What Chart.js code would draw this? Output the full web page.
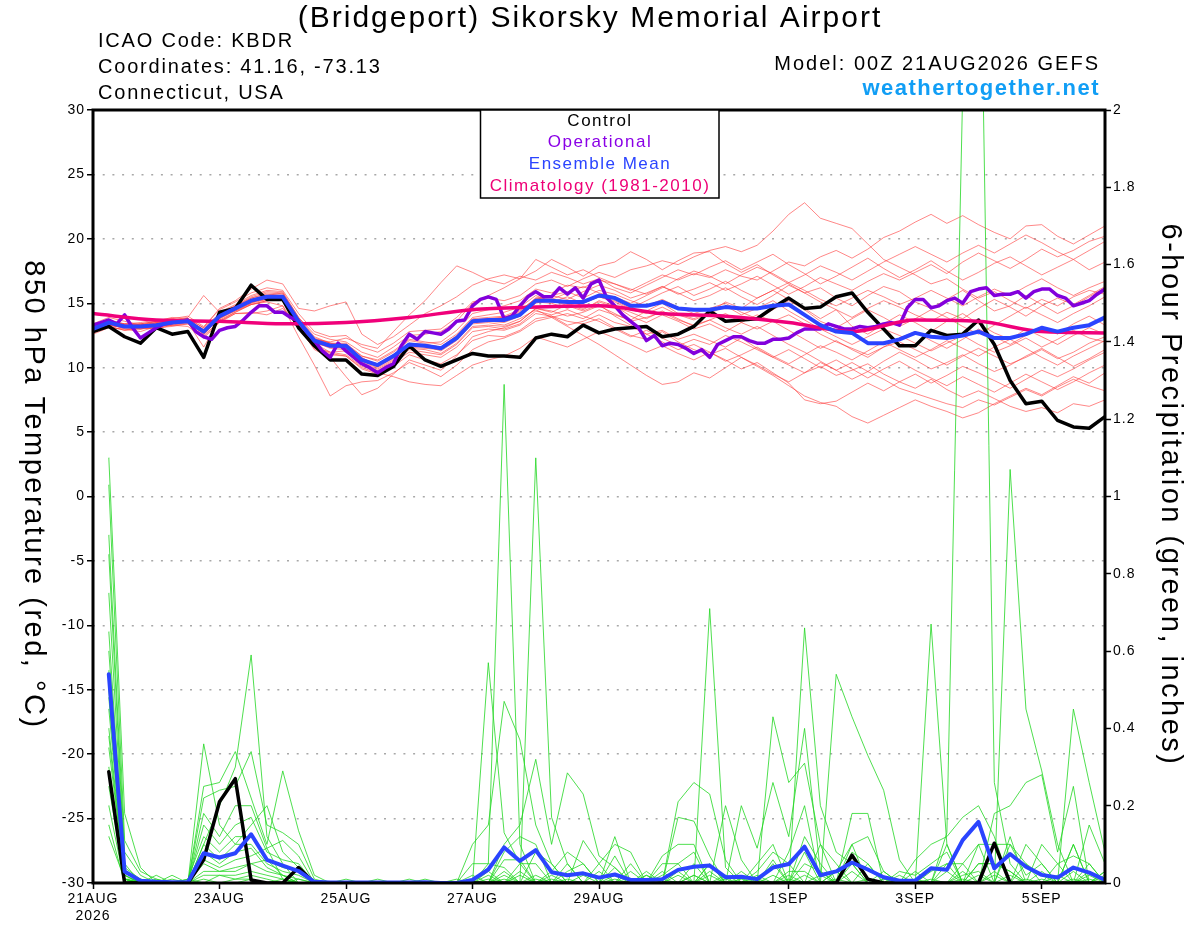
<!DOCTYPE html>
<html>
<head>
<meta charset="utf-8">
<script src="https://cdn.jsdelivr.net/npm/chart.js@4.4.1/dist/chart.umd.min.js"></script>
<style>
html, body { margin: 0; padding: 0; background: #fff; }
#wrap { width: 1200px; height: 927px; position: relative; }
</style>
</head>
<body>
<div id="wrap"><canvas id="chart"></canvas></div>
<script>
var FONT = "'Liberation Sans', Arial, Helvetica, sans-serif";

// x axis: forecast hours from 00Z 21AUG2026
var tickHours = [0, 48, 96, 144, 192, 264, 312, 360];
var tickLabels = [['21AUG', '2026'], '23AUG', '25AUG', '27AUG', '29AUG', '1SEP', '3SEP', '5SEP'];

// 850 hPa temperature, 6-hourly 0..384h
var controlTemp = [
  12.8, 13.2, 12.4, 11.9, 13.1, 12.6, 12.8, 10.8, 14.3, 14.6,
  16.4, 15.3, 15.3, 13.1, 11.7, 10.6, 10.6, 9.5, 9.4, 10.1,
  11.7, 10.6, 10.1, 10.6, 11.1, 10.9, 10.9, 10.8, 12.3, 12.6,
  12.4, 13.3, 12.7, 13.0, 13.1, 13.2, 12.4, 12.6, 13.2, 14.4,
  13.6, 13.7, 13.8, 14.65, 15.4, 14.6, 14.7, 15.5, 15.8, 14.3,
  13.0, 11.7, 11.7, 12.9, 12.5, 12.6, 13.7, 11.8, 9.0, 7.2,
  7.4, 5.9, 5.4, 5.3, 6.2
];
var meanTemp = [
  13.0, 13.5, 13.2, 13.2, 13.3, 13.5, 13.6, 12.8, 14.0, 14.6,
  15.2, 15.5, 15.5, 13.6, 12.1, 11.7, 11.7, 10.6, 10.2, 10.9,
  11.8, 11.7, 11.5, 12.3, 13.6, 13.7, 13.7, 14.1, 15.2, 15.2,
  15.1, 15.1, 15.6, 15.4, 14.8, 14.8, 15.1, 14.6, 14.5, 14.5,
  14.7, 14.6, 14.6, 14.8, 14.9, 14.1, 13.3, 12.8, 12.7, 11.9,
  11.9, 12.2, 12.7, 12.4, 12.3, 12.5, 12.8, 12.3, 12.3, 12.6,
  13.1, 12.8, 13.1, 13.3, 13.9
];
// operational run, 3-hourly 0..384h
var operTemp = [
  13.3, 13.5, 13.7, 13.4, 14.1, 13.1, 12.3, 12.7, 13.1, 13.4,
  13.5, 13.6, 13.7, 12.8, 12.4, 12.2, 12.9, 13.1, 13.2, 13.7,
  14.3, 14.8, 14.8, 14.3, 14.3, 13.9, 13.6, 12.8, 12.1, 11.3,
  10.8, 11.9, 11.3, 10.8, 10.3, 10.0, 9.6, 10.0, 10.3, 11.7,
  12.6, 12.2, 12.8,
  12.7, 12.6, 13.0, 13.6, 13.7, 14.8, 15.3, 15.5, 15.3, 13.8,
  14.0, 14.8, 15.5, 15.9, 15.5, 15.5, 16.2, 15.7, 16.2, 15.4,
  16.5, 16.8, 15.4, 14.8, 14.1, 13.6, 13.1, 12.1, 12.5, 11.7,
  11.9, 11.8, 11.5, 11.1, 11.4, 10.8, 11.8, 12.1, 12.4, 12.4,
  12.1, 11.9,
  11.9, 12.2, 12.2, 12.3, 12.7, 13.0, 13.0, 13.0, 13.4, 13.2,
  13.0, 13.0, 13.2, 13.1, 13.2, 13.4, 13.5, 13.3, 14.65, 15.3,
  15.3, 14.65, 14.8, 15.2, 15.4, 15.0, 15.9, 16.1, 16.2, 15.6,
  15.7, 15.7, 15.9, 15.4, 15.9, 16.1, 16.1, 15.6, 15.4, 14.8,
  15.0, 15.2, 15.7, 16.1
];
// climatology (1981-2010), daily
var climTemp = [14.2, 13.7, 13.6, 13.4, 13.5, 13.9, 14.5, 14.7, 14.8, 14.2, 14.0, 13.5, 12.8, 13.7, 13.6, 12.8, 12.7];

// 6-hour precipitation (inches), 6..384h
var controlPrecip = [
  .288, 0, 0, 0, 0, 0, .06, .21, .27, .008, 0, 0, .04, 0, 0, 0,
  0, 0, 0, 0, 0, 0, 0, 0, 0, 0, 0, 0, 0, 0, 0, 0,
  0, 0, 0, 0, 0, 0, 0, 0, 0, 0, 0, 0, 0, 0, 0, .072,
  .01, 0, 0, 0, 0, 0, 0, 0, .103, 0, 0, 0, 0, 0, 0, 0
];
var meanPrecip = [
  .54, .03, .006, .003, .002, .002, .077, .066, .077, .126, .06, .045, .031, .003, .001, .001,
  .001, .001, .001, .001, .002, 0, 0, .008, .035, .092, .057, .085, .028, .02, .025, .014,
  .022, .008, .008, .01, .034, .042, .045, .015, .016, .01, .04, .049, .094, .02, .03, .053,
  .035, .015, .006, .006, .038, .034, .111, .158, .038, .075, .042, .021, .014, .04, .027, .008
];

// ensemble members, temperature (6-hourly 0..384h)
var tempMembers = [
  [13.1, 13.6, 13.4, 13.5, 13.7, 13.8, 14.0, 13.2, 14.5, 15.1, 15.8, 16.2, 16.0,
   14.2, 12.8, 12.4, 12.5, 11.6, 11.2, 11.9, 12.8, 12.9, 13.0, 13.9, 15.1, 15.4,
   15.2, 15.6, 16.5, 16.8, 16.3, 16.9, 17.4, 17.0, 17.6, 17.9, 18.3, 18.0, 18.6,
   19.1, 19.4, 19.0, 19.5, 20.6, 21.9, 22.8, 21.6, 21.2, 20.8, 19.6, 18.4, 17.8,
   17.2, 16.5, 16.9, 16.1, 15.4, 15.9, 15.2, 14.6, 15.3, 14.8, 15.5, 16.0, 15.7],
  [12.9, 13.4, 13.3, 13.0, 13.4, 13.6, 13.5, 12.6, 13.8, 14.5, 15.0, 15.6, 15.8,
   13.9, 12.4, 11.9, 11.8, 10.9, 10.5, 11.2, 12.1, 11.9, 12.0, 12.9, 14.2, 14.5,
   14.8, 15.2, 16.1, 15.8, 16.4, 16.2, 16.8, 16.5, 16.0, 16.6, 17.2, 16.8, 17.3,
   17.0, 17.6, 17.1, 16.8, 17.5, 18.2, 17.9, 18.6, 19.1, 18.5, 19.2, 20.1, 20.6,
   21.3, 21.9, 21.2, 21.8, 21.1, 20.5, 20.0, 21.0, 21.1, 20.2, 19.6, 20.3, 21.0],
  [13.4, 13.9, 13.6, 13.3, 13.6, 13.9, 13.8, 13.1, 14.6, 15.2, 16.1, 16.8, 16.5,
   14.6, 14.4, 14.8, 15.1, 12.6, 11.8, 12.4, 13.3, 14.2, 14.8, 15.5, 16.4, 16.9,
   17.2, 16.9, 17.5, 18.4, 17.8, 17.1, 17.9, 18.2, 19.0, 18.4, 17.6, 18.3, 18.9,
   19.0, 18.1, 17.4, 18.0, 17.2, 16.5, 15.8, 16.2, 15.4, 14.8, 15.6, 16.3, 15.9,
   15.1, 14.6, 15.3, 16.0, 15.2, 14.4, 14.8, 15.6, 14.9, 14.2, 14.8, 15.5, 16.2],
  [12.7, 13.2, 12.9, 13.0, 13.1, 13.2, 13.4, 12.4, 13.6, 14.3, 14.9, 15.2, 15.3,
   13.3, 11.9, 11.2, 11.0, 10.1, 9.8, 10.4, 11.2, 11.0, 10.8, 11.6, 12.8, 13.0,
   12.9, 13.3, 14.2, 14.0, 13.6, 13.4, 13.8, 13.1, 12.5, 12.2, 12.8, 12.0, 11.4,
   11.0, 11.5, 10.8, 10.1, 9.4, 8.6, 7.8, 7.3, 7.0, 6.2, 5.7, 6.3, 6.9,
   7.5, 7.0, 6.6, 6.1, 6.5, 7.2, 7.8, 8.4, 7.9, 8.6, 9.3, 8.8, 9.6],
  [12.6, 13.1, 13.0, 12.8, 13.2, 13.3, 13.2, 12.3, 13.5, 14.2, 14.2, 14.4, 14.8,
   13.0, 11.5, 11.0, 10.9, 9.9, 9.5, 10.1, 11.0, 10.6, 10.3, 11.0, 12.1, 12.5,
   12.4, 12.9, 13.8, 14.0, 13.3, 13.6, 14.1, 13.5, 13.2, 12.6, 12.9, 12.2, 12.6,
   12.1, 11.6, 12.3, 11.5, 10.8, 10.2, 9.6, 10.1, 9.4, 9.8, 10.3, 9.5, 8.9,
   8.4, 9.1, 8.3, 7.7, 8.2, 7.6, 7.0, 6.6, 6.9, 6.5, 7.2, 7.0, 7.5],
  [13.0, 13.3, 13.1, 13.4, 13.2, 13.4, 13.7, 12.9, 13.9, 14.4, 14.9, 15.1, 14.8,
   12.4, 10.2, 7.8, 8.6, 8.9, 9.0, 9.6, 10.4, 9.9, 9.3, 10.2, 11.4, 12.0,
   12.3, 12.8, 13.6, 13.9, 14.2, 13.8, 14.5, 14.1, 13.7, 14.4, 15.0, 14.2, 13.8,
   14.3, 15.1, 14.6, 15.4, 16.0, 15.3, 14.6, 13.8, 14.5, 13.2, 12.6, 13.4, 14.1,
   13.5, 12.8, 13.6, 14.2, 13.4, 12.7, 12.2, 13.0, 12.4, 11.8, 12.5, 13.1, 12.6],
  [13.2, 13.7, 13.3, 13.1, 13.5, 13.6, 13.5, 12.7, 14.2, 14.8, 15.4, 15.7, 15.6,
   13.2, 11.4, 10.8, 9.3, 7.9, 8.4, 9.5, 10.6, 10.2, 9.8, 10.9, 12.4, 12.8,
   13.1, 13.6, 14.6, 14.3, 14.9, 14.5, 15.2, 14.8, 14.0, 13.5, 14.1, 13.6, 13.0,
   13.4, 12.8, 13.5, 14.1, 13.6, 12.9, 12.2, 11.5, 12.1, 11.4, 10.8, 11.6, 12.3,
   12.8, 12.1, 11.5, 12.2, 13.0, 12.4, 11.8, 12.5, 13.2, 12.6, 13.4, 14.0, 13.3],
  [13.1, 13.5, 13.4, 13.3, 13.5, 13.7, 13.9, 15.6, 14.3, 14.9, 15.6, 16.0, 15.9,
   13.9, 12.6, 12.2, 12.0, 11.2, 10.8, 11.6, 12.5, 12.6, 12.8, 13.6, 15.0, 15.6,
   16.2, 16.9, 18.4, 17.8, 17.2, 17.6, 17.0, 16.5, 16.1, 15.7, 16.3, 15.8, 15.2,
   15.6, 16.2, 15.5, 14.9, 15.6, 16.4, 15.8, 15.1, 14.5, 13.9, 14.6, 15.2, 14.7,
   14.1, 13.6, 14.3, 13.8, 14.6, 15.3, 14.7, 14.0, 14.8, 15.4, 14.9, 15.6, 16.3],
  [12.8, 13.3, 13.1, 13.2, 13.1, 13.4, 13.6, 12.6, 13.8, 14.4, 15.0, 15.3, 15.4,
   13.5, 12.0, 11.5, 11.4, 10.4, 10.0, 10.6, 11.5, 11.4, 11.1, 11.9, 13.2, 13.3,
   13.2, 13.6, 14.6, 14.4, 14.0, 14.3, 14.8, 14.2, 13.6, 13.9, 14.3, 13.7, 13.3,
   13.7, 14.2, 13.5, 13.0, 13.6, 14.1, 13.4, 12.6, 12.0, 11.5, 11.0, 11.6, 12.0,
   11.4, 10.8, 10.2, 10.9, 11.5, 10.9, 10.3, 10.8, 11.4, 10.7, 11.2, 11.9, 12.4],
  [13.0, 13.4, 13.3, 13.4, 13.6, 13.8, 13.6, 13.0, 14.1, 14.7, 15.3, 15.6, 15.2,
   13.4, 12.2, 12.0, 12.3, 11.8, 11.5, 12.8, 14.1, 15.2, 16.6, 17.9, 17.4, 16.8,
   16.5, 17.1, 16.8, 17.4, 17.0, 16.5, 16.9, 16.2, 15.8, 16.4, 17.0, 17.6, 17.2,
   17.8, 18.3, 17.6, 18.2, 18.8, 18.0, 17.3, 16.5, 17.1, 17.8, 18.5, 17.7, 17.0,
   17.6, 18.3, 17.5, 16.8, 17.4, 18.1, 18.6, 17.9, 17.2, 17.8, 18.4, 17.6, 18.2],
  [12.9, 13.4, 13.0, 13.1, 13.3, 13.4, 13.5, 11.6, 13.7, 14.3, 14.9, 15.2, 15.3,
   13.1, 11.7, 11.1, 10.9, 10.0, 9.6, 9.3, 8.9, 8.7, 8.6, 9.4, 10.2, 10.6,
   10.9, 11.5, 12.4, 12.0, 11.6, 12.2, 12.8, 12.3, 11.8, 11.2, 11.7, 11.1, 10.6,
   11.2, 10.5, 11.0, 11.6, 10.9, 10.3, 11.0, 11.7, 11.2, 10.6, 11.3, 12.0, 11.4,
   10.8, 11.4, 12.1, 11.5, 10.9, 11.6, 12.2, 11.5, 10.8, 10.2, 10.9, 11.5, 12.1],
  [13.3, 13.6, 13.2, 13.3, 13.4, 13.5, 13.8, 12.9, 14.1, 14.5, 15.1, 15.4, 15.6,
   13.7, 12.1, 11.8, 11.5, 10.6, 10.3, 11.0, 11.8, 11.7, 11.3, 12.1, 13.4, 13.5,
   13.3, 13.8, 14.5, 13.9, 13.2, 12.5, 11.8, 11.0, 10.2, 9.4, 8.7, 8.9, 9.6,
   9.2, 10.0, 10.8, 10.2, 9.5, 8.9, 9.6, 10.4, 9.8, 9.1, 9.7, 10.5, 11.2,
   10.6, 9.9, 10.4, 11.0, 10.3, 9.7, 10.2, 10.9, 11.5, 10.8, 10.1, 10.7, 11.4],
  [13.0, 13.6, 13.2, 13.3, 13.4, 13.4, 13.7, 12.8, 14.0, 14.7, 15.4, 15.8, 15.7,
   13.8, 12.3, 11.9, 11.5, 10.8, 10.1, 10.8, 11.9, 11.6, 11.6, 12.5, 13.8, 13.9,
   14.0, 14.5, 15.3, 15.6, 15.9, 15.4, 16.0, 15.7, 15.2, 14.8, 15.3, 14.7, 14.2,
   14.6, 15.0, 14.3, 13.8, 14.5, 15.2, 14.5, 13.6, 13.1, 13.8, 14.5, 13.9, 13.2,
   13.8, 14.5, 13.9, 13.2, 12.6, 13.3, 14.0, 14.7, 14.1, 13.5, 14.2, 14.8, 15.5],
  [12.7, 13.3, 13.1, 13.0, 13.2, 13.3, 13.5, 12.7, 13.9, 14.5, 15.1, 15.3, 15.4,
   13.5, 11.9, 11.6, 11.6, 10.5, 10.1, 10.7, 11.6, 11.5, 11.4, 12.2, 13.5, 13.6,
   13.5, 14.0, 15.0, 15.3, 14.8, 14.4, 14.9, 14.0, 13.3, 12.6, 12.0, 11.4, 11.8,
   11.2, 10.6, 9.9, 10.4, 9.6, 8.8, 7.5, 7.2, 7.4, 8.1, 8.8, 8.2, 8.9,
   9.5, 8.8, 9.4, 10.1, 9.6, 9.0, 8.4, 9.1, 9.8, 9.3, 9.9, 10.6, 11.2],
  [13.1, 13.5, 13.3, 13.2, 13.4, 13.6, 13.6, 12.9, 14.0, 14.6, 15.2, 15.5, 15.4,
   13.6, 12.1, 11.8, 11.7, 10.7, 10.2, 10.9, 11.8, 11.8, 11.6, 12.4, 13.7, 13.8,
   13.9, 14.3, 15.4, 15.6, 15.3, 15.9, 16.4, 16.0, 15.4, 15.8, 16.3, 15.7, 16.1,
   16.6, 16.0, 16.5, 17.1, 16.4, 15.7, 16.3, 17.0, 16.5, 16.0, 16.7, 17.3, 16.8,
   17.4, 18.0, 17.3, 18.2, 18.9, 18.3, 17.7, 18.4, 19.2, 18.6, 19.1, 19.8, 20.2],
  [12.8, 13.2, 12.9, 13.1, 13.0, 13.3, 13.4, 12.5, 13.6, 14.2, 14.3, 14.1, 14.6,
   13.2, 11.6, 11.2, 11.3, 10.3, 9.9, 10.5, 11.4, 11.2, 11.0, 11.8, 13.1, 13.2,
   13.0, 13.4, 14.4, 14.1, 14.5, 14.0, 13.6, 13.0, 12.4, 12.9, 12.3, 11.7, 12.2,
   11.8, 12.5, 12.0, 11.4, 10.8, 11.4, 10.7, 10.0, 10.6, 9.9, 9.2, 9.9, 10.5,
   9.8, 9.2, 8.6, 9.3, 8.7, 8.1, 8.8, 9.5, 8.9, 8.3, 8.9, 9.6, 10.2],
  [13.2, 13.7, 13.4, 13.4, 13.6, 13.7, 13.8, 13.1, 14.2, 14.8, 15.5, 15.9, 15.8,
   13.7, 12.2, 11.9, 11.9, 10.9, 10.6, 11.3, 12.2, 12.0, 11.8, 12.6, 13.9, 14.1,
   14.3, 14.7, 15.6, 15.1, 15.5, 15.0, 15.5, 15.2, 14.6, 15.2, 15.8, 16.3, 15.6,
   16.1, 16.7, 16.0, 15.4, 16.0, 16.6, 16.0, 15.3, 14.8, 15.4, 16.0, 15.5, 14.9,
   15.4, 16.0, 15.4, 14.8, 15.5, 16.1, 15.6, 16.3, 16.9, 16.2, 15.6, 16.2, 16.7],
  [12.9, 13.4, 13.2, 13.2, 13.3, 13.4, 13.6, 12.8, 13.9, 14.5, 15.1, 15.4, 15.5,
   13.5, 12.0, 11.6, 11.5, 10.5, 10.1, 10.8, 11.7, 11.6, 11.4, 12.2, 13.5, 13.6,
   13.6, 14.0, 15.1, 15.0, 14.6, 15.0, 15.5, 15.1, 14.5, 14.2, 14.7, 14.1, 13.7,
   14.2, 14.8, 14.1, 14.6, 15.2, 14.4, 13.7, 13.0, 12.4, 11.8, 12.4, 13.0, 12.5,
   11.9, 11.3, 11.9, 12.5, 11.8, 11.2, 11.7, 12.3, 11.6, 12.2, 12.9, 12.3, 12.0],
  [13.0, 13.5, 13.2, 13.1, 13.3, 13.5, 13.6, 12.8, 14.0, 14.6, 15.2, 15.5, 15.5,
   13.6, 12.1, 11.7, 11.7, 10.6, 10.2, 10.9, 11.8, 11.7, 11.5, 12.3, 13.6, 13.7,
   13.8, 14.2, 15.3, 15.1, 15.0, 14.6, 15.1, 14.7, 14.3, 13.8, 14.4, 13.8, 13.2,
   13.7, 13.1, 12.6, 13.2, 12.5, 11.8, 11.2, 10.5, 9.8, 10.4, 9.7, 9.1, 8.4,
   8.0, 7.6, 7.2, 6.9, 7.5, 7.1, 7.7, 8.3, 7.8, 8.5, 9.1, 8.6, 8.2],
  [13.1, 13.6, 13.3, 13.3, 13.5, 13.6, 13.7, 12.9, 14.1, 14.7, 15.3, 15.6, 15.6,
   13.7, 12.2, 11.8, 11.8, 10.7, 10.3, 11.0, 11.9, 11.8, 11.6, 12.4, 13.7, 13.8,
   13.9, 14.4, 15.4, 15.3, 15.8, 16.3, 15.8, 15.5, 15.0, 15.6, 16.2, 16.9, 17.5,
   17.1, 16.5, 17.2, 17.8, 17.3, 16.6, 17.2, 17.9, 17.4, 16.8, 17.5, 18.2, 18.8,
   19.4, 18.8, 18.2, 18.9, 19.5, 18.9, 19.6, 20.3, 19.7, 19.0, 18.4, 19.1, 19.8]
];

// ensemble members, 6-hour precipitation (6..384h)
var precipMembers = [
  [1.1,.18,.04,0,0,0,.1,.2, .3,.59,.12,.05,0,0,0,0, 0,0,0,0,0,0,0,0, .05,1.29,.1,0,0,.05,0,0,
   0,0,0,0,0,0,.05,0, 0,0,0,0,.12,.05,0,0, 0,0,0,0,0,0,.05,.1, 0,0,0,0,0,.1,0,0],
  [1.03,.11,.03,.01,0,0,.36,.15, .1,.15,.2,.08,.04,0,0,0, 0,0,0,0,0,0,0,0, .57,.13,.05,0,0,0,0,0,
   .12,0,0,0,.21,.26,.23,.06, 0,0,.43,.26,.31,.1,.05,0, 0,0,0,0,0,0,0,0, 0,.12,0,0,0,0,.05,0],
  [.9,.08,.02,0,0,0,.25,.26, .34,.22,.1,.29,.135,.02,0,0, 0,0,0,0,0,0,0,0, 0,0,0,1.1,.17,.05,0,0,
   0,0,0,0,0,0,0,0, 0,0,0,0,.66,.2,.08,.05, 0,0,0,0,.67,.1,0,0, 0,0,.1,.05,0,0,0,0],
  [.85,.05,0,0,0,0,.22,.24, .25,.34,.15,.13,.1,.01,0,0, 0,0,0,0,0,0,0,.1, .15,.47,.37,.15,.05,0,0,0,
   0,0,0,0,0,0,.71,.04, 0,0,0,0,0,0,.54,.43, .33,.24,.06,0,0,0,0,0, 0,0,0,0,0,.45,.26,.08],
  [.75,.04,.01,0,.02,0,.18,.12, .2,.2,.09,.11,.07,0,0,0, 0,0,0,0,0,0,0,0, 0,.1,.15,.32,.1,.285,.23,.07,
   .04,0,0,0,0,0,0,0, 0,0,0,0,0,0,0,0, 0,0,0,0,0,.13,2.05,2.8, .26,.05,0,0,0,0,0,0],
  [.65,.03,0,0,0,0,.15,.1, .15,.17,.08,.06,.05,0,0,0, 0,0,0,0,0,0,0,0, 0,.08,.12,.1,0,0,.11,.05,
   .1,.08,0,0,.17,.16,.07,0, .2,.09,.26,.12,.4,.03,0,0, 0,0,0,0,0,0,0,0, 0,1.07,.45,.29,.1,0,0,0],
  [.6,.02,0,0,0,.01,.12,.08, .12,.12,.06,.04,.03,0,0,0, 0,0,0,0,0,0,0,0, 0,0,0,0,.03,.08,.05,0,
   .07,0,0,.07,.1,.1,0,.2, .06,0,0,.08,.2,0,0,.18, .18,0,0,0,0,0,0,0, .18,.2,.26,.28,.08,.25,0,0],
  [.55,.01,0,0,0,0,.1,.06, .1,.1,.05,.03,.02,0,0,0, 0,0,0,0,0,0,0,0, 0,.06,.06,0,0,0,0,0,
   0,.05,0,.05,.05,.08,0,0, 0,.05,.1,0,.08,0,0,.1, .12,.03,0,.06,.1,.12,.17,.2, .12,0,0,0,0,0,.15,.05],
  [.5,.01,0,.02,0,0,.08,.05, .08,.09,.04,.02,0,0,0,0, 0,0,0,0,0,0,0,.05, .05,.04,0,.08,.05,0,0,.05,
   0,0,.03,0,.02,0,.05,0, 0,.03,.08,.05,0,0,.03,.1, 0,0,0,0,0,.1,0,.1, .1,.1,.05,0,0,.1,0,.03],
  [.48,.01,0,0,0,0,.06,.04, .06,.07,.09,.01,0,0,0,0, 0,0,0,0,0,0,0,0, .03,0,.05,.05,0,.03,.05,0,
   .04,0,.02,0,0,.02,0,0, 0,0,.06,0,0,.1,0,.08, .05,0,.03,.02,.05,.08,0,.05, .05,.03,0,.1,.05,.07,.05,0],
  [.45,.01,.01,0,0,0,.05,.03, .04,.05,.06,.02,.01,0,0,0, 0,0,0,0,0,0,0,.02, 0,.02,0,0,0,0,0,0,
   0,.03,0,.02,.05,0,0,.02, 0,0,0,.03,.03,0,0,.05, 0,.03,0,0,0,.05,.05,0, 0,.1,.02,.05,0,0,.03,0],
  [.4,.02,0,0,0,0,.03,.03, .03,.05,.03,.02,0,0,0,0, 0,0,0,0,0,0,.01,0, 0,.03,0,0,.02,0,0,0,
   .02,0,0,0,0,0,.03,0, 0,0,.05,0,0,0,.03,0, .05,0,0,0,.03,.05,0,.05, .05,.03,0,0,.05,0,0,.03],
  [.38,.01,0,0,0,0,.02,.02, .02,.03,.02,.01,0,0,0,0, 0,.01,0,0,0,0,0,0, .02,0,.03,0,0,0,0,.03,
   0,0,0,.03,0,.05,0,0, 0,.02,0,0,.05,.03,0,0, 0,0,0,.03,0,0,.03,0, .02,0,.05,.02,0,.03,0,0],
  [.35,.02,0,0,.01,0,0,.02, .01,.02,.01,0,0,0,0,0, 0,0,0,.01,0,0,0,0, 0,0,0,.02,0,0,0,0,
   0,0,.02,0,.03,0,0,0, .03,0,0,.02,0,0,0,.03, 0,0,0,0,0,0,.02,.03, 0,.02,0,0,0,0,.02,0],
  [.3,.01,0,0,0,0,0,0, .01,.01,0,0,.01,0,0,0, 0,0,0,0,0,0,0,0, 0,0,.02,0,0,0,.02,0,
   0,0,0,0,0,.02,0,0, 0,0,.02,0,.02,0,0,0, 0,0,.02,0,0,.03,0,0, .03,0,0,.03,0,0,0,.02],
  [.28,0,0,0,0,0,.01,0, 0,.01,0,0,0,0,0,0, 0,0,0,0,0,0,0,0, 0,.01,0,0,.01,0,0,0,
   0,0,0,0,0,0,.02,0, 0,0,0,0,0,.02,0,0, 0,.01,0,0,0,0,0,.02, 0,0,0,0,.02,0,0,0],
  [.25,.01,0,.01,0,0,0,0, 0,0,0,.01,0,0,0,0, 0,0,0,0,0,0,0,0, 0,0,0,0,0,0,0,0,
   .01,0,0,0,0,0,0,.01, 0,0,0,0,0,0,.01,0, 0,0,0,0,.01,0,0,0, 0,0,.01,0,0,0,0,0],
  [.2,0,0,0,0,.01,0,0, 0,0,0,0,0,0,0,0, 0,0,0,0,0,0,0,0, .01,0,0,0,0,0,0,0,
   0,0,0,.01,0,0,0,0, 0,0,0,.01,0,0,0,0, 0,0,0,.01,0,0,0,0, 0,0,0,0,0,.01,0,0],
  [.15,0,.01,0,0,0,0,0, 0,0,0,0,0,0,0,0, 0,0,0,0,.01,0,0,0, 0,0,0,0,0,.01,0,0,
   0,0,0,0,0,0,0,0, 0,.01,0,0,0,0,0,0, 0,0,0,0,0,0,.01,0, 0,0,0,0,0,0,.01,0],
  [.12,.01,0,0,0,0,0,0, 0,0,0,0,0,0,0,.01, 0,0,0,0,0,0,0,0, 0,0,0,.01,0,0,0,0,
   0,0,0,0,0,0,0,0, .01,0,0,0,0,0,0,0, .01,0,0,0,0,0,0,0, 0,0,0,.01,0,0,0,0]
];

// sanity check on the hand-typed tables
tempMembers.forEach(function (m, k) { if (m.length !== 65) throw new Error('temp member ' + k + ' has ' + m.length); });
precipMembers.forEach(function (m, k) { if (m.length !== 64) throw new Error('precip member ' + k + ' has ' + m.length); });
if (operTemp.length !== 129) throw new Error('operTemp has ' + operTemp.length);

function pts(vals, step, start) {
  return vals.map(function (v, i) { return { x: start + i * step, y: v }; });
}

var datasets = [];
tempMembers.forEach(function (m) {
  datasets.push({ data: pts(m, 6, 0), borderColor: 'rgba(255,55,55,0.6)', borderWidth: 1, yAxisID: 'y', order: 20 });
});
precipMembers.forEach(function (m) {
  datasets.push({ data: pts(m, 6, 6), borderColor: 'rgba(35,215,35,0.8)', borderWidth: 1, yAxisID: 'y2', order: 19 });
});
datasets.push({ data: pts(controlPrecip, 6, 6), borderColor: '#000', borderWidth: 3.5, yAxisID: 'y2', order: 6 });
datasets.push({ data: pts(meanPrecip, 6, 6), borderColor: '#2a44ff', borderWidth: 4, yAxisID: 'y2', order: 5 });
datasets.push({ data: pts(controlTemp, 6, 0), borderColor: '#000', borderWidth: 3.5, yAxisID: 'y', order: 4 });
datasets.push({ data: pts(operTemp, 3, 0), borderColor: '#8200dc', borderWidth: 3.5, yAxisID: 'y', order: 3 });
datasets.push({ data: pts(climTemp, 24, 0), borderColor: '#f0007a', borderWidth: 3.5, yAxisID: 'y', order: 2, cubicInterpolationMode: 'monotone' });
datasets.push({ data: pts(meanTemp, 6, 0), borderColor: '#2a44ff', borderWidth: 4, yAxisID: 'y', order: 1 });

function text(ctx, s, x, y, size, color, align, spacing, bold) {
  ctx.save();
  ctx.font = (bold ? 'bold ' : '') + size + 'px ' + FONT;
  ctx.fillStyle = color;
  ctx.textAlign = align;
  ctx.textBaseline = 'middle';
  ctx.letterSpacing = spacing + 'px';
  ctx.fillText(s, x, y);
  ctx.restore();
}

var decor = {
  id: 'decor',
  beforeDraw: function (chart) {
    chart.ctx.letterSpacing = '1px';
  },
  afterDraw: function (chart) {
    var ctx = chart.ctx, a = chart.chartArea;
    ctx.letterSpacing = '0px';

    ctx.save();
    ctx.strokeStyle = '#000';
    ctx.lineWidth = 3;
    ctx.strokeRect(a.left, a.top, a.right - a.left, a.bottom - a.top);
    ctx.restore();

    // legend box
    ctx.save();
    ctx.fillStyle = '#fff';
    ctx.fillRect(480.5, a.top, 238.5, 88);
    ctx.strokeStyle = '#000';
    ctx.lineWidth = 1.5;
    ctx.strokeRect(480.5, a.top, 238.5, 88);
    ctx.restore();
    text(ctx, 'Control', 600, 121, 17, '#000', 'center', 1.5);
    text(ctx, 'Operational', 600, 142.5, 17, '#8a00e6', 'center', 1.5);
    text(ctx, 'Ensemble Mean', 600, 164, 17, '#2b44ff', 'center', 1.5);
    text(ctx, 'Climatology (1981-2010)', 600, 186, 17, '#ee0077', 'center', 1.5);

    // header
    text(ctx, '(Bridgeport) Sikorsky Memorial Airport', 590, 19, 30, '#000', 'center', 2);
    text(ctx, 'ICAO Code: KBDR', 98, 41, 20, '#000', 'left', 1.8);
    text(ctx, 'Coordinates: 41.16, -73.13', 98, 67, 20, '#000', 'left', 1.8);
    text(ctx, 'Connecticut, USA', 98, 93, 20, '#000', 'left', 1.8);
    text(ctx, 'Model: 00Z 21AUG2026 GEFS', 1100, 64, 20, '#000', 'right', 2);
    text(ctx, 'weathertogether.net', 1100, 89, 22, '#119ef5', 'right', 1.5, true);

    // axis titles, both reading top to bottom
    ctx.save();
    ctx.translate(33, 495);
    ctx.rotate(Math.PI / 2);
    text(ctx, '850 hPa Temperature (red, \u00B0C)', 0, 0, 29, '#000', 'center', 2.5);
    ctx.restore();
    ctx.save();
    ctx.translate(1170, 495);
    ctx.rotate(Math.PI / 2);
    text(ctx, '6-hour Precipitation (green, inches)', 0, 0, 29, '#000', 'center', 2.5);
    ctx.restore();
  }
};

var tickFont = { family: FONT, size: 14 };

new Chart(document.getElementById('chart'), {
  type: 'line',
  data: { datasets: datasets },
  plugins: [decor],
  options: {
    responsive: true,
    maintainAspectRatio: false,
    animation: false,
    devicePixelRatio: 1,
    events: [],
    layout: { padding: { top: 110, left: 0, right: 0, bottom: 0 } },
    elements: {
      point: { radius: 0, hoverRadius: 0 },
      line: { tension: 0, fill: false, borderJoinStyle: 'round', borderCapStyle: 'round' }
    },
    plugins: { legend: { display: false }, tooltip: { enabled: false }, title: { display: false } },
    scales: {
      x: {
        type: 'linear', min: 0, max: 384,
        grid: { drawOnChartArea: false, drawTicks: true, tickLength: 6, tickColor: '#000', tickWidth: 1.5 },
        border: { display: false },
        afterBuildTicks: function (axis) {
          axis.ticks = tickHours.map(function (h) { return { value: h }; });
        },
        afterFit: function (axis) { axis.height = 44; },
        ticks: {
          autoSkip: false, maxRotation: 0, minRotation: 0, padding: 2, color: '#000', font: tickFont,
          callback: function (v) {
            var k = tickHours.indexOf(v);
            return k < 0 ? '' : tickLabels[k];
          }
        }
      },
      y: {
        position: 'left', min: -30, max: 30,
        ticks: { stepSize: 5, color: '#000', font: tickFont, padding: 2 },
        grid: { color: '#a8a8a8', lineWidth: 1.5, tickColor: '#000', tickLength: 6, tickWidth: 1.5 },
        border: { display: false, dash: [2, 7.7] },
        afterFit: function (axis) { axis.width = 93; }
      },
      y2: {
        position: 'right', min: 0, max: 2,
        ticks: {
          stepSize: 0.2, color: '#000', font: tickFont, padding: 2,
          callback: function (v) { return String(Math.round(v * 10) / 10); }
        },
        grid: { drawOnChartArea: false, tickColor: '#000', tickLength: 6, tickWidth: 1.5 },
        border: { display: false },
        afterFit: function (axis) { axis.width = 95; }
      }
    }
  }
});
</script>
</body>
</html>
